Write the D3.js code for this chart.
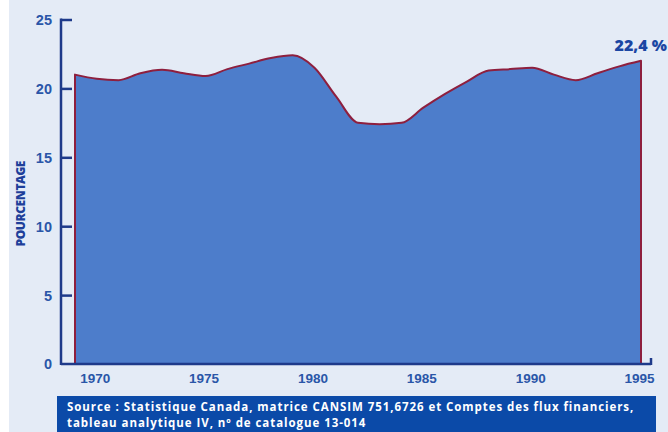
<!DOCTYPE html>
<html>
<head>
<meta charset="utf-8">
<script src="https://cdn.jsdelivr.net/npm/d3@7"></script>
<style>
  html, body { margin: 0; padding: 0; background: #ffffff; }
  svg { display: block; font-family: "Open Sans", sans-serif; }
</style>
</head>
<body>
<div id="chart"></div>
<script>
const years = [1969, 1970, 1971, 1972, 1973, 1974, 1975, 1976, 1977, 1978, 1979, 1980,
  1981, 1982, 1983, 1984, 1985, 1986, 1987, 1988, 1989, 1990, 1991, 1992, 1993, 1994, 1995];
const values = [21.0, 20.7, 20.6, 21.1, 21.35, 21.1, 20.9, 21.4, 21.8, 22.2, 22.4, 21.5,
  19.4, 17.5, 17.4, 17.5, 18.6, 19.6, 20.5, 21.3, 21.4, 21.5, 21.0, 20.6, 21.1, 21.6, 22.0];
const yTicks = [0, 5, 10, 15, 20, 25];
const xTicks = [1970, 1975, 1980, 1985, 1990, 1995];
const lastLabel = "22,4 %";
const yTitle = "POURCENTAGE";
const sourceLines = [
  "Source : Statistique Canada, matrice CANSIM 751,6726 et Comptes des flux financiers,",
  "tableau analytique IV, nº de catalogue 13-014"
];

const W = 668, H = 432;
const axisX = 61;

const svg = d3.select("#chart")
  .append("svg")
  .attr("width", W)
  .attr("height", H);

// fond
svg.append("rect")
  .attr("x", 9)
  .attr("y", 0)
  .attr("width", W - 9)
  .attr("height", H)
  .attr("fill", "#e4ebf6");

const data = years.map((y, i) => ({ year: y, value: values[i] }));

const x = d3.scaleLinear().domain([1969, 1995]).range([75, 641]);
const y = d3.scaleLinear().domain([0, 25]).range([364, 19.5]);

const area = d3.area()
  .x((d) => x(d.year))
  .y0(y(0))
  .y1((d) => y(d.value))
  .curve(d3.curveMonotoneX);

svg.append("path")
  .datum(data)
  .attr("d", area)
  .attr("fill", "#4d7dcb")
  .attr("stroke", "#8e1f3e")
  .attr("stroke-width", 2)
  .attr("stroke-linejoin", "round");

// axe vertical
const yAxis = d3.axisLeft(y)
  .tickValues(yTicks)
  .tickSize(-11)
  .tickPadding(9);

const yAxisG = svg.append("g")
  .attr("transform", `translate(${axisX},0)`)
  .call(yAxis);

yAxisG.select(".domain").remove();
yAxisG.selectAll(".tick line")
  .attr("stroke", "#1e3a8a")
  .attr("stroke-width", 2.5)
  .filter((d) => d === 0).remove();
yAxisG.selectAll(".tick text")
  .attr("fill", "#2a56a8")
  .style("font-size", "14.5px")
  .style("font-weight", "700")
  .attr("dy", "0.34em");

svg.append("line")
  .attr("x1", axisX).attr("x2", axisX)
  .attr("y1", y(25) - 1).attr("y2", y(0) + 1)
  .attr("stroke", "#1e3a8a")
  .attr("stroke-width", 2.5);

// axe horizontal
svg.append("line")
  .attr("x1", axisX).attr("x2", x(1995) + 10)
  .attr("y1", y(0)).attr("y2", y(0))
  .attr("stroke", "#1e3a8a")
  .attr("stroke-width", 2.5);

svg.append("line")
  .attr("x1", x(1995) + 10).attr("x2", x(1995) + 10)
  .attr("y1", y(0) + 1).attr("y2", y(0) - 6)
  .attr("stroke", "#1e3a8a")
  .attr("stroke-width", 2.5);

const xAxis = d3.axisBottom(x)
  .tickValues(xTicks)
  .tickSize(0)
  .tickPadding(9)
  .tickFormat(d3.format("d"));

const xAxisG = svg.append("g")
  .attr("transform", `translate(-2,${y(0)})`)
  .call(xAxis);

xAxisG.select(".domain").remove();
xAxisG.selectAll(".tick text")
  .attr("fill", "#2a56a8")
  .style("font-size", "13.5px")
  .style("font-weight", "700");

// titre de l'axe
svg.append("text")
  .attr("transform", `translate(25,${(y(0) + y(25)) / 2 + 12}) rotate(-90)`)
  .attr("text-anchor", "middle")
  .attr("fill", "#1e3f9a")
  .style("font-size", "12px")
  .style("font-weight", "800")
  .style("letter-spacing", "-0.4px")
  .text(yTitle);

// étiquette de la dernière valeur
svg.append("text")
  .attr("x", x(1995) + 26)
  .attr("y", 51)
  .attr("text-anchor", "end")
  .attr("fill", "#1b46a3")
  .style("font-size", "16px")
  .style("font-weight", "800")
  .text(lastLabel);

// source
svg.append("rect")
  .attr("x", 57)
  .attr("y", 396)
  .attr("width", 599)
  .attr("height", 36)
  .attr("fill", "#0b4aa8");

svg.append("g")
  .selectAll("text")
  .data(sourceLines)
  .enter()
  .append("text")
  .attr("x", 67)
  .attr("y", (_d, i) => 411 + i * 15.8)
  .attr("fill", "#ffffff")
  .style("font-size", "11.5px")
  .style("font-weight", "700")
  .style("letter-spacing", "0.94px")
  .text((d) => d);
</script>
</body>
</html>
